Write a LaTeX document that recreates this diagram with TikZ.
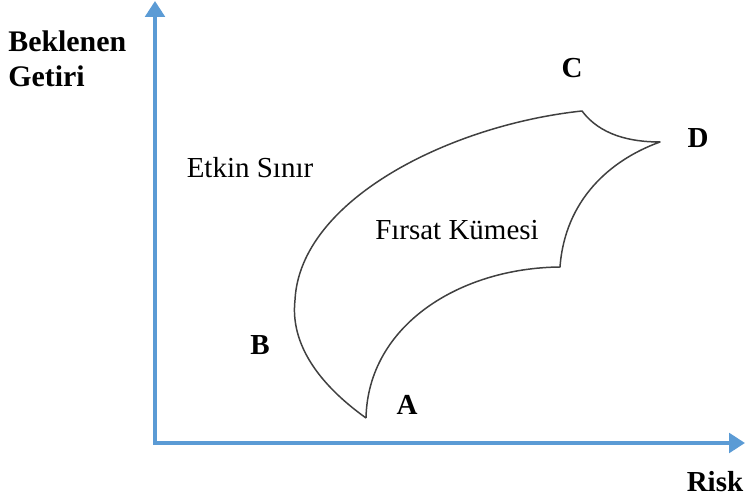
\documentclass[tikz,border=0pt]{standalone}
\usepackage{fontspec}
\setmainfont{Liberation Serif}
\usepackage{xcolor}
\usetikzlibrary{arrows.meta}
\definecolor{axisblue}{HTML}{5B9BD5}
\tikzset{
  axis/.style={draw=axisblue,line width=2.2pt,-{Triangle[length=9pt,width=11pt]}},
  edge/.style={draw=black!75,line width=0.85pt,line join=round},
  ptl/.style={font=\fontsize{16.5}{19}\selectfont\bfseries,inner sep=0pt},   % A, B, C, D
  txt/.style={font=\fontsize{16.5}{19}\selectfont,inner sep=0pt}
}

\begin{document}
\begin{tikzpicture}[x=0.2mm,y=-0.2mm]
  \useasboundingbox (0,0) rectangle (745,499);
  % eksenler
  \coordinate (orig) at (155,445);
  \coordinate (ytop) at (155,1);
  \coordinate (xend) at (745,443);
  \draw[axis] (orig) -- (ytop);
  \draw[axis] (153,443) -- (xend);
  \node[ptl,align=left,anchor=west,font=\fontsize{17}{20}\selectfont\bfseries] (ylab) at (8,59) {Beklenen\\Getiri};
  \node[ptl] (xlab) at (715,482) {Risk};
  % fırsat kümesi
  \coordinate (pa) at (366,418);
  \coordinate (pb) at (295,300);
  \coordinate (pc) at (582,111);
  \coordinate (pd) at (660,142);
  \coordinate (pe) at (560,267);
  \draw[edge] (pa) .. controls (320,385) and (290,345) .. (pb)
              .. controls (300,200) and (450,125) .. (pc)
              .. controls (600,135) and (630,142) .. (pd)
              .. controls (610,160) and (565,200) .. (pe)
              .. controls (460,268) and (368,325) .. (pa);
  \node[ptl] (lA) at (407,405) {A};
  \node[ptl] (lB) at (260,345) {B};
  \node[ptl] (lC) at (572,68) {C};
  \node[ptl] (lD) at (698,138) {D};
  \node[txt] (front) at (250,168) {Etkin Sınır};
  \node[txt] (set) at (457,230) {Fırsat Kümesi};
\end{tikzpicture}
\end{document}
